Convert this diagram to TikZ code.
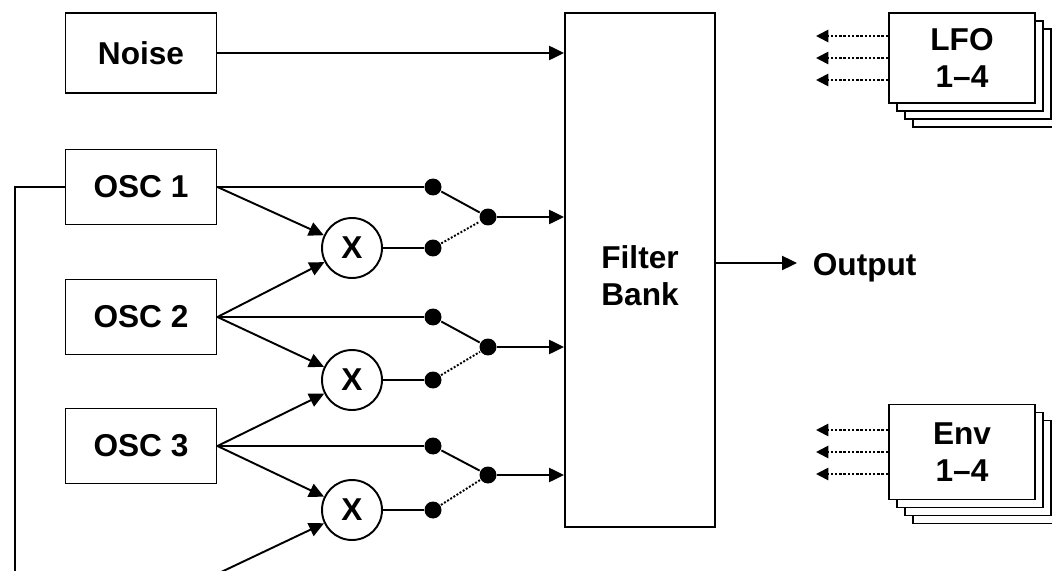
\documentclass[tikz,border=0pt]{standalone}
\usepackage{fontspec}
\setmainfont{Liberation Sans}
\usepackage{tikz}
\usetikzlibrary{positioning}
\usetikzlibrary{arrows, arrows.meta}
\usetikzlibrary{calc, shapes}
\tikzstyle{arrow} = [->, >={Triangle[length=8.5pt, width=8pt]}]
\tikzstyle{block} = [draw, rectangle, fill = white, minimum width = 3.02cm, minimum height = 1.5cm]

\begin{document}
\begin{tikzpicture}[
			x = 0.02cm, y = -0.02cm, line width = 1.1pt,
			every node/.style = {font = \fontsize{18}{21}\selectfont\bfseries},
			mult/.style = {draw, circle, minimum size = 1.2cm, inner sep = 0mm},
			dot/.style = {fill, circle, minimum size = 0.34cm, inner sep = 0mm},
			stackbox/.style = {block, minimum width = 2.92cm, minimum height = 1.8cm},
			ctrl/.style = {->, >={Triangle[length=7pt, width=7pt]}, dash pattern = on 1.4pt off 1pt}
			]
				\useasboundingbox (0,0) rectangle (1052,571);

				% Sources
				\node[block, minimum height = 1.6cm] (Noise) at (141,53) {Noise};
				\node[block] (OSC1) at (141,187) {OSC 1};
				\node[block] (OSC2) at (141,317) {OSC 2};
				\node[block] (OSC3) at (141,446) {OSC 3};

				\node[block, minimum width = 3cm, minimum height = 10.28cm] (Filter) at (640,270) {};
				\node[align = center] (FilterText) at (640,276) {Filter\\Bank};

				% Ring modulators
				\node[mult] (X1) at (352,248) {X};
				\node[mult] (X2) at (352,380) {X};
				\node[mult] (X3) at (352,510) {X};

				% Switches
				\node[dot] (s1a) at (433,187) {};
				\node[dot] (s1b) at (433,248) {};
				\node[dot] (s1c) at (488,217) {};
				\node[dot] (s2a) at (433,317) {};
				\node[dot] (s2b) at (433,380) {};
				\node[dot] (s2c) at (488,347) {};
				\node[dot] (s3a) at (433,446) {};
				\node[dot] (s3b) at (433,510) {};
				\node[dot] (s3c) at (488,475) {};

				% Modulation sources
				\foreach \k in {3,2,1} {
					\node[stackbox] (LFO\k) at ({962+8*\k},{58+8*\k}) {};
				}
				\node[stackbox, align = center] (LFO) at (962,58) {LFO\\1--4};
				\foreach \k in {3,2,1} {
					\node[stackbox, minimum height = 1.9cm] (Env\k) at ({962+8*\k},{452+8*\k}) {};
				}
				\node[stackbox, minimum height = 1.9cm, align = center] (Env) at (962,452) {Env\\1--4};

				\node[anchor = west] (Output) at (806,268) {Output};
				\coordinate (out) at (797,263);
				\coordinate (fb) at (217,574);

				% Connections
				\draw[arrow] (Noise) -- (Noise -| Filter.west);
				\draw (OSC1.east) -- (s1a);
				\draw (OSC2.east) -- (s2a);
				\draw (OSC3.east) -- (s3a);
				\draw[arrow] (OSC1.east) -- (X1);
				\draw[arrow] (OSC2.east) -- (X1);
				\draw[arrow] (OSC2.east) -- (X2);
				\draw[arrow] (OSC3.east) -- (X2);
				\draw[arrow] (OSC3.east) -- (X3);
				\draw (OSC1.west) -- (15,187) -- (15,574) -- (fb);
				\draw[arrow] (fb) -- (X3);
				\draw (X1) -- (s1b);
				\draw (X2) -- (s2b);
				\draw (X3) -- (s3b);
				\draw (s1a) -- (s1c);
				\draw (s2a) -- (s2c);
				\draw (s3a) -- (s3c);
				\draw[densely dotted] (s1b) -- (s1c);
				\draw[densely dotted] (s2b) -- (s2c);
				\draw[densely dotted] (s3b) -- (s3c);
				\draw[arrow] (s1c) -- (s1c -| Filter.west);
				\draw[arrow] (s2c) -- (s2c -| Filter.west);
				\draw[arrow] (s3c) -- (s3c -| Filter.west);
				\draw[arrow] (Filter.east |- out) -- (out);

				\foreach \dy in {-22,0,22} {
					\draw[ctrl] ($(LFO.west)+(0,\dy)$) -- ++(-72,0);
					\draw[ctrl] ($(Env.west)+(0,\dy)$) -- ++(-72,0);
				}
			\end{tikzpicture}
\end{document}
